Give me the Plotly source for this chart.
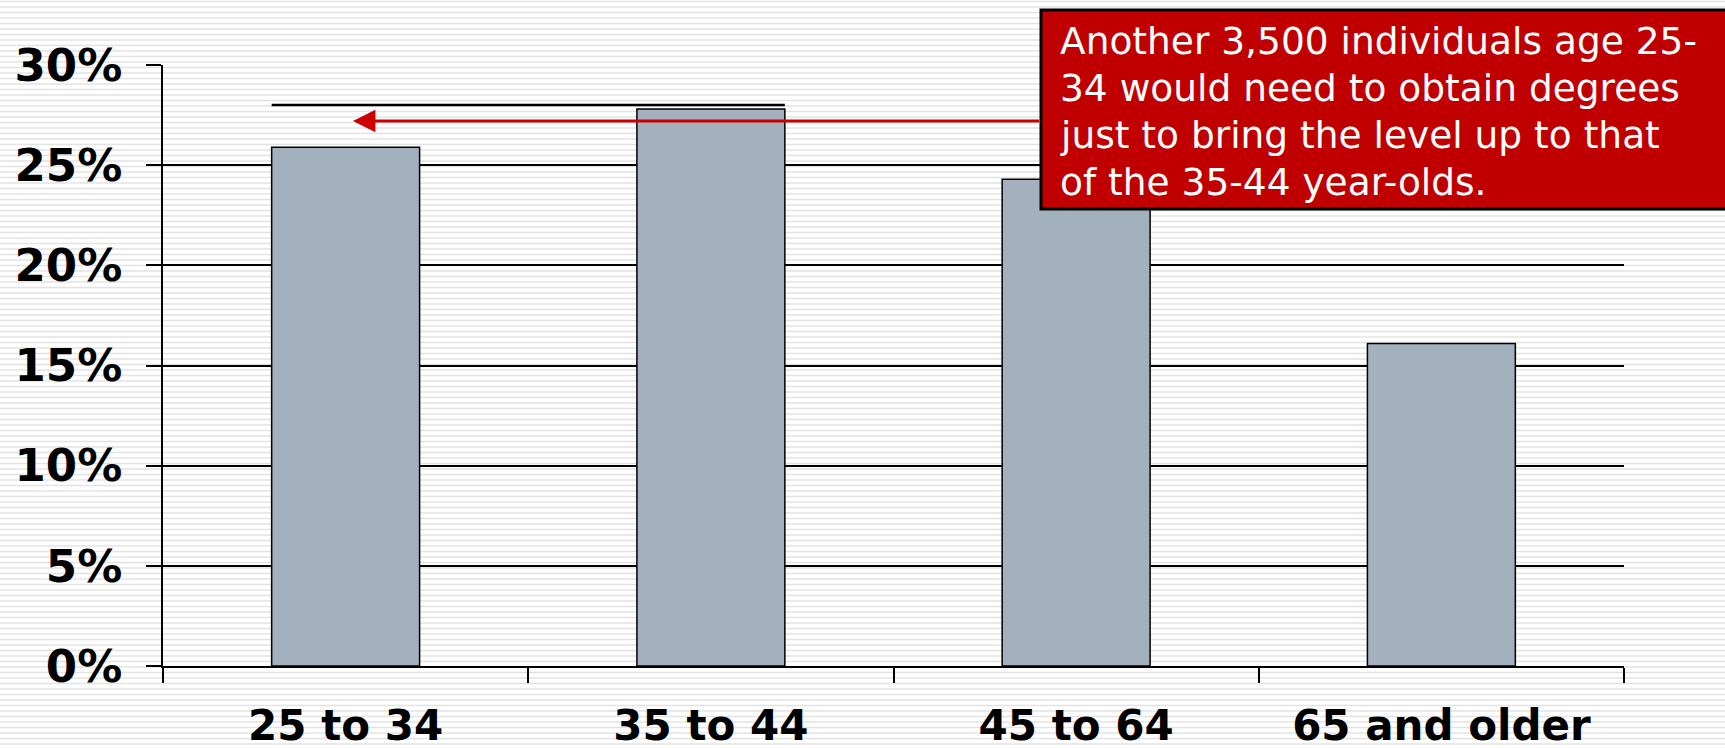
import plotly.graph_objects as go

# Share of population holding degrees, by age group
age_groups = ["25 to 34", "35 to 44", "45 to 64", "65 and older"]
degree_share = [0.259, 0.278, 0.243, 0.161]

# Target level (35-44 year-olds) and the callout arrow level
target_level = 0.28
arrow_level = 0.272

y_ticks = [0.0, 0.05, 0.10, 0.15, 0.20, 0.25, 0.30]
y_tick_text = ["0%", "5%", "10%", "15%", "20%", "25%", "30%"]

callout_lines = [
    "Another 3,500 individuals age 25-",
    "34 would need to obtain degrees",
    "just to bring the level up to that",
    "of the 35-44 year-olds.",
]

W, H = 1725, 748
L, R, T, B = 163, 101, 65, 82
plot_w = W - L - R
plot_h = H - T - B


def px_x(px):
    return (px - L) / plot_w


def px_y(py):
    return (H - B - py) / plot_h


fig = go.Figure()
fig.add_trace(go.Bar(
    x=age_groups,
    y=degree_share,
    width=0.405,
    marker=dict(color="#a3b1bf", line=dict(color="#000000", width=1.5)),
    hoverinfo="skip",
))

# striped page background
shapes = []
period = 5.5
n = int(H / period) + 2
for i in range(n):
    yp = px_y(1.5 + i * period)
    shapes.append(dict(
        type="line", xref="paper", yref="paper",
        x0=px_x(-10), x1=px_x(W + 10), y0=yp, y1=yp,
        line=dict(color="#e3e3e3", width=1.6), layer="below",
    ))

# reference line at the 35-44 level
shapes.append(dict(
    type="line", xref="x", yref="y",
    x0=-0.2025, x1=1.2025, y0=target_level, y1=target_level,
    line=dict(color="#000000", width=2.5), layer="above",
))

# callout box
shapes.append(dict(
    type="rect", xref="paper", yref="paper",
    x0=px_x(1041), x1=px_x(W + 20), y0=px_y(10), y1=px_y(209),
    fillcolor="#c00000", line=dict(color="#000000", width=3), layer="above",
))

annotations = [
    dict(
        x=0.02, y=arrow_level, xref="x", yref="y",
        ax=1.903, ay=arrow_level, axref="x", ayref="y",
        text="", showarrow=True, arrowhead=2, arrowsize=1.5,
        arrowwidth=3, arrowcolor="#cc0000",
    ),
]

line_centers = [41, 88, 135, 182]
for txt, cy in zip(callout_lines, line_centers):
    annotations.append(dict(
        x=px_x(1058), y=px_y(cy), xref="paper", yref="paper",
        xanchor="left", yanchor="middle", text=txt, showarrow=False,
        align="left",
        font=dict(family="DejaVu Sans", size=37.5, color="#ffffff"),
    ))

fig.update_layout(
    width=W, height=H,
    margin=dict(l=L, r=R, t=T, b=B, pad=0),
    paper_bgcolor="#ffffff",
    plot_bgcolor="rgba(0,0,0,0)",
    showlegend=False,
    shapes=shapes,
    annotations=annotations,
    xaxis=dict(
        range=[-0.5, 3.5], automargin=False,
        showline=True, linecolor="#000000", linewidth=1.5,
        showgrid=False, zeroline=False,
        ticks="outside", tickson="boundaries", ticklen=15,
        tickcolor="#000000", tickwidth=1.5,
        tickfont=dict(family="DejaVu Sans", size=42, color="#000000", weight="bold"),
        ticklabelstandoff=22,
    ),
    yaxis=dict(
        range=[0, 0.30], automargin=False,
        tickvals=y_ticks, ticktext=y_tick_text,
        showline=True, linecolor="#000000", linewidth=1.5,
        showgrid=True, gridcolor="#000000", gridwidth=1.5,
        zeroline=False,
        ticks="outside", ticklen=15, tickcolor="#000000", tickwidth=1.5,
        tickfont=dict(family="DejaVu Sans", size=45, color="#000000", weight="bold"),
        ticklabelstandoff=15,
    ),
)

fig.write_html("out.html")
